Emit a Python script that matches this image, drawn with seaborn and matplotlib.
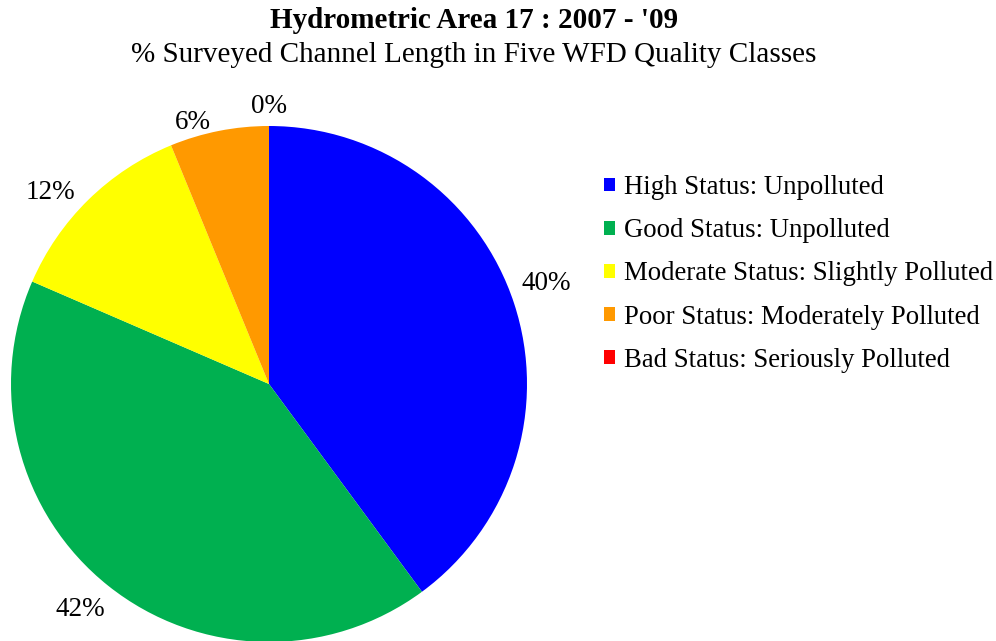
import matplotlib
matplotlib.use('Agg')
import numpy as np
import matplotlib.pyplot as plt
import seaborn as sns

# ── Data ──────────────────────────────────────────────
classes = ['High Status: Unpolluted',
           'Good Status: Unpolluted',
           'Moderate Status: Slightly Polluted',
           'Poor Status: Moderately Polluted',
           'Bad Status: Seriously Polluted']
shares = [39.9, 41.6, 12.3, 6.2, 0.0]
colours = ['#0000FF', '#00B050', '#FFFF00', '#FF9900', '#FF0000']

title = "Hydrometric Area 17 : 2007 - '09"
subtitle = '% Surveyed Channel Length in Five WFD Quality Classes'

# label placement tweaks (radial distance, angle nudge in degrees)
label_dist = [1.143, 1.142, 1.126, 1.057, 1.074]
label_nudge = [1.8, -1.4, 4.4, 5.0, 0.0]

# ── Style ─────────────────────────────────────────────
sns.set_theme(style='white')
plt.rcParams['font.family'] = ['Liberation Serif', 'DejaVu Serif']
plt.rcParams['text.color'] = 'black'

fig = plt.figure(figsize=(9.96, 6.41), dpi=100)
W, H = 996, 641
# pie centre ~ (269, 384) px, radius ~ 258 px
ax = fig.add_axes([11 / W, (H - 642) / H, 516 / W, 516 / H])

wedges, texts, autotexts = ax.pie(
    shares, colors=sns.color_palette(colours), startangle=90,
    counterclock=False, radius=1.0,
    autopct=lambda p: f'{p:.0f}%', pctdistance=1.12,
    wedgeprops=dict(linewidth=0),
    textprops=dict(fontsize=19.5, color='black'))

for w, t, d, n in zip(wedges, autotexts, label_dist, label_nudge):
    ang = np.deg2rad((w.theta1 + w.theta2) / 2 + n)
    t.set_position((d * np.cos(ang), d * np.sin(ang)))
    t.set_ha('center')
    t.set_va('center')

ax.set_xlim(-1, 1)
ax.set_ylim(-1, 1)
ax.set_aspect('equal')
ax.axis('off')

fig.text(474 / W, 1 - 21 / H, title, ha='center', va='center',
         fontsize=21, fontweight='bold')
fig.text(474 / W, 1 - 55 / H, subtitle, ha='center', va='center',
         fontsize=21)

fig.legend(wedges, classes, loc='center left',
           bbox_to_anchor=(604 / W, 1 - 274 / H), frameon=False,
           fontsize=19.3, handlelength=0.42, handleheight=0.42,
           handletextpad=0.33, labelspacing=0.68, borderpad=0,
           borderaxespad=0)

fig.savefig('out.png', dpi=100)
